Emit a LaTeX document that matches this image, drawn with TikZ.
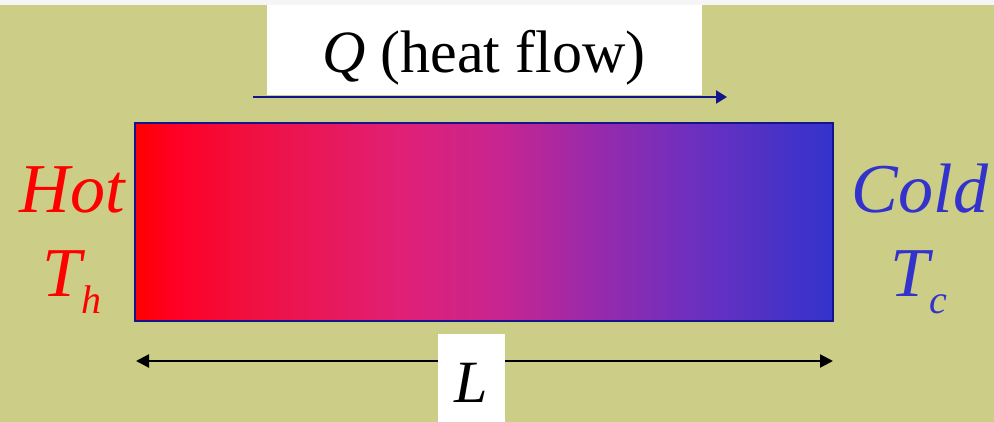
\documentclass[tikz,border=0pt]{standalone}
\usepackage{fontspec}
\setmainfont{Liberation Serif}
\usetikzlibrary{arrows.meta}
\definecolor{bgolive}{RGB}{204,205,135}
\definecolor{hotred}{RGB}{255,0,0}
\definecolor{coldblue}{RGB}{51,51,204}
\definecolor{navyline}{RGB}{20,20,140}
\pgfdeclarehorizontalshading{barshade}{100bp}{
  color(0bp)=(hotred);
  color(25bp)=(hotred);
  color(27.9bp)=(hotred!85!magenta);
  color(33.2bp)=({rgb,255:red,240;green,16;blue,64});
  color(44bp)=({rgb,255:red,224;green,32;blue,117});
  color(51.1bp)=({rgb,255:red,200;green,37;blue,144});
  color(58.3bp)=({rgb,255:red,150;green,42;blue,172});
  color(65.5bp)=({rgb,255:red,106;green,48;blue,192});
  color(75bp)=(coldblue);
  color(100bp)=(coldblue)}
\tikzset{
  bigtxt/.style={font=\fontsize{60}{72}\selectfont, inner sep=0pt, anchor=base},
  sidetxt/.style={font=\fontsize{70}{84}\selectfont\itshape, inner sep=0pt, anchor=base},
  whitebox/.style={fill=white, draw=none, inner sep=0pt},
  dimarrow/.style={line width=2.2pt, black, {Triangle[length=13pt,width=13pt]}-{Triangle[length=13pt,width=13pt]}},
  flowarrow/.style={line width=2.2pt, navyline, -{Triangle[length=11pt,width=13pt]}}
}
\newcommand{\subtxt}[1]{\raisebox{-17pt}{\fontsize{40}{40}\selectfont\itshape #1}}
\begin{document}
\begin{tikzpicture}[x=1pt,y=-1pt]
\useasboundingbox (0,0) rectangle (994,422);
\fill[bgolive] (0,0) rectangle (994,422);
\fill[gray!8] (0,0) rectangle (994,5);
% Q label box and arrow
\node[whitebox, minimum width=435pt, minimum height=90pt] (qbox) at (484.5,50) {};
\node[bigtxt] (qtxt) at (484,73) {\textit{Q} (heat flow)};
\coordinate (qs) at (253,97);
\coordinate (qe) at (727,97);
\draw[flowarrow] (qs) -- (qe);
% bar
\path[shading=barshade, draw=navyline, line width=2pt] (135,123) rectangle (833,321);
\node[inner sep=0pt, minimum width=698pt, minimum height=198pt] (bar) at (484,222) {};
% side labels
\node[sidetxt, text=hotred] (hot) at (72,213) {Hot};
\node[sidetxt, text=hotred] (th) at (72,297) {T\subtxt{h}};
\node[sidetxt, text=coldblue] (cold) at (920,213) {Cold};
\node[sidetxt, text=coldblue] (tc) at (919,297) {T\subtxt{c}};
% L dimension
\coordinate (la) at (136,361);
\coordinate (lb) at (833,361);
\draw[dimarrow] (la) -- (lb);
\node[whitebox, minimum width=67pt, minimum height=90pt] (lbox) at (471.5,379) {};
\node[bigtxt] (ltxt) at (471.5,402) {\textit{L}};
\end{tikzpicture}
\end{document}
